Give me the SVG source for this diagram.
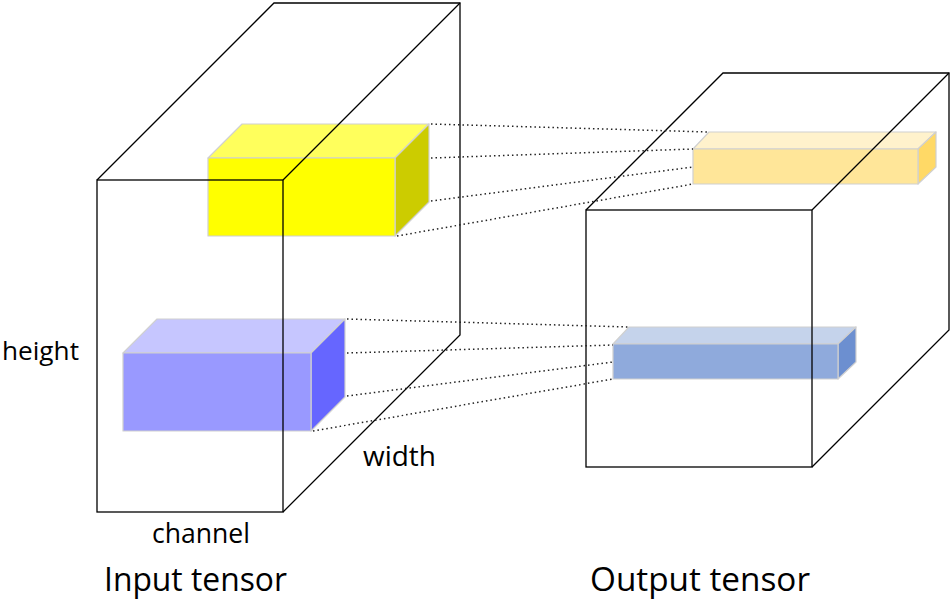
<svg xmlns="http://www.w3.org/2000/svg" width="952" height="601" viewBox="0 0 952 601">
<style>
.wire{fill:none;stroke:#000;stroke-width:1.3;stroke-linejoin:miter}
.box{stroke:#D0D0D0;stroke-width:1.2;stroke-linejoin:round}
.dot{stroke:#222;stroke-width:1.5;stroke-dasharray:1.5 3;fill:none}
.lbl{font-family:"Open Sans","Noto Sans","Liberation Sans",sans-serif;fill:#000}
</style>
<rect width="952" height="601" fill="#fff"/>
<g id="yellow-block">
<polygon class="box" points="208,158 242,124 429,124 395,158" fill="#FFFF5C"/>
<polygon class="box" points="395,158 429,124 429,202 395,236" fill="#CCCC00"/>
<rect class="box" x="208" y="158" width="187" height="78" fill="#FFFF00"/>
</g>
<g id="blue-block">
<polygon class="box" points="123,353 157,319 345,319 311,353" fill="#C6C6FF"/>
<polygon class="box" points="311,353 345,319 345,397 311,431" fill="#6666FF"/>
<rect class="box" x="123" y="353" width="188" height="78" fill="#9999FF"/>
</g>
<g id="orange-block">
<polygon class="box" points="693,149 709,132 936,132 918,149" fill="#FFF2CC"/>
<polygon class="box" points="918,149 936,132 936,167 918,184" fill="#FFD966"/>
<rect class="box" x="693" y="149" width="225" height="35" fill="#FFE699"/>
</g>
<g id="steel-block">
<polygon class="box" points="613,344 629,327 856,327 838,344" fill="#C5D3EB"/>
<polygon class="box" points="838,344 856,327 856,362 838,379" fill="#6C8FD0"/>
<rect class="box" x="613" y="344" width="225" height="35" fill="#8FAADC"/>
</g>
<g id="input-tensor">
<polyline class="wire" points="97,180 274,3 460,3 460,335 283,512"/>
<line class="wire" x1="283" y1="180" x2="460" y2="3"/>
<rect class="wire" x="97" y="180" width="186" height="332"/>
</g>
<g id="output-tensor">
<polyline class="wire" points="586,210 723,73 949,73 949,330 812,467"/>
<line class="wire" x1="812" y1="210" x2="949" y2="73"/>
<rect class="wire" x="586" y="210" width="226" height="257"/>
</g>
<g id="connectors">
<line class="dot" x1="431" y1="124" x2="709" y2="132"/>
<line class="dot" x1="431" y1="158" x2="693" y2="149"/>
<line class="dot" x1="431" y1="201" x2="693" y2="167"/>
<line class="dot" x1="397" y1="236" x2="693" y2="184"/>
<line class="dot" x1="347" y1="319" x2="629" y2="327"/>
<line class="dot" x1="347" y1="353" x2="613" y2="345"/>
<line class="dot" x1="347" y1="396" x2="613" y2="362"/>
<line class="dot" x1="313" y1="431" x2="613" y2="379"/>
</g>
<g id="labels">
<text class="lbl" x="2" y="360" font-size="26" textLength="77" lengthAdjust="spacingAndGlyphs">height</text>
<text class="lbl" x="363" y="466" font-size="27" textLength="73" lengthAdjust="spacingAndGlyphs">width</text>
<text class="lbl" x="152" y="543" font-size="27" textLength="98" lengthAdjust="spacingAndGlyphs">channel</text>
<text class="lbl" x="104" y="591" font-size="32" textLength="183" lengthAdjust="spacingAndGlyphs">Input tensor</text>
<text class="lbl" x="590" y="591" font-size="32" textLength="220" lengthAdjust="spacingAndGlyphs">Output tensor</text>
</g>
</svg>
